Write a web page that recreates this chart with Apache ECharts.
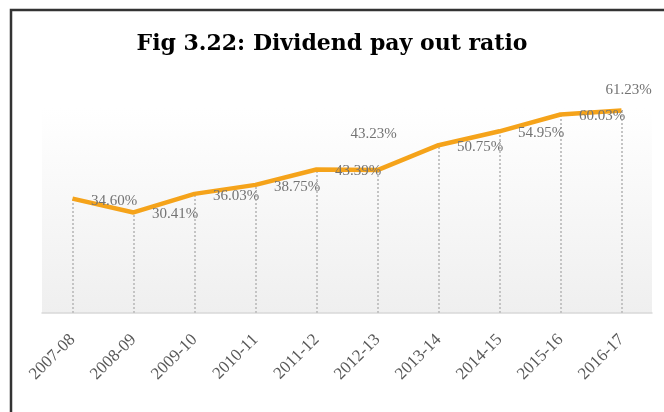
<!DOCTYPE html>
<html>
<head>
<meta charset="utf-8">
<script src="https://cdn.jsdelivr.net/npm/echarts@6/dist/echarts.min.js"></script>
<style>html,body{margin:0;padding:0;background:#fff;}#c{width:664px;height:412px;}</style>
</head>
<body>
<div id="c"></div>
<script>
const categories = ['2007-08','2008-09','2009-10','2010-11','2011-12','2012-13','2013-14','2014-15','2015-16','2016-17'];
const payoutRatio = [34.60, 30.41, 36.03, 38.75, 43.39, 43.23, 50.75, 54.95, 60.03, 61.23];
const titleText = 'Fig 3.22: Dividend pay out ratio';

const serif = '"Liberation Serif", "DejaVu Serif", serif';
const chart = echarts.init(document.getElementById('c'));

const seriesData = payoutRatio.map((v, i) => {
  const d = { value: v };
  if (i === 5) d.label = { position: 'top', distance: 28, offset: [-4, 0] };
  if (i === 9) d.label = { position: 'top', distance: 12, offset: [7, 0] };
  return d;
});

const dropLines = payoutRatio.map((v, i) => [
  { coord: [i, 0] },
  { coord: [i, v] }
]);

chart.setOption({
  animation: false,
  backgroundColor: '#fff',
  title: {
    text: titleText,
    left: 'center',
    top: 28,
    textStyle: { fontFamily: '"DejaVu Serif", serif', fontWeight: 'bold', fontSize: 22, color: '#000' }
  },
  graphic: [
    { type: 'rect', shape: { x: 11, y: 10, width: 720, height: 480 },
      style: { fill: 'none', stroke: '#333', lineWidth: 2.5 }, z: 100 },
    { type: 'rect', shape: { x: 42, y: 108, width: 610, height: 205 },
      style: { fill: new echarts.graphic.LinearGradient(0, 0, 0, 1, [
        { offset: 0, color: '#ffffff' }, { offset: 1, color: '#efefef' }]) }, z: -1 }
  ],
  grid: { left: 42, right: 12, top: 108, bottom: 99, containLabel: false },
  xAxis: {
    type: 'category',
    data: categories,
    boundaryGap: true,
    axisLine: { show: true, lineStyle: { color: '#d9d9d9', width: 1.5 } },
    axisTick: { show: false },
    axisLabel: { rotate: 45, margin: 24, fontFamily: serif, fontSize: 17, color: '#595959', interval: 0 }
  },
  yAxis: {
    type: 'value', min: 0, max: 62, show: false,
    splitLine: { show: false }
  },
  series: [{
    type: 'line',
    data: seriesData,
    symbol: 'circle',
    symbolSize: 1,
    itemStyle: { color: 'rgba(0,0,0,0)', borderWidth: 0 },
    lineStyle: { color: '#f5a31a', width: 4.5 },
    label: {
      show: true, position: 'right', distance: 18, offset: [0, 2],
      formatter: p => p.value.toFixed(2) + '%',
      fontFamily: serif, fontSize: 15, color: '#737373'
    },
    markLine: {
      silent: true, symbol: 'none',
      label: { show: false },
      lineStyle: { color: '#c4c4c4', type: 'dotted', width: 2 },
      data: dropLines,
      z: 1
    },
    z: 3
  }]
});
</script>
</body>
</html>
